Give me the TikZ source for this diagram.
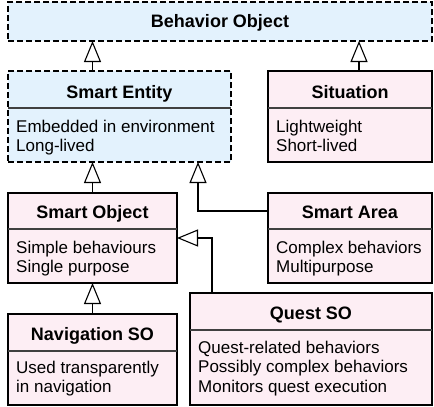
\documentclass[tikz,border=0pt]{standalone}
\usepackage{fontspec}
\setmainfont{Liberation Sans}
\usetikzlibrary{arrows.meta}
\definecolor{entityblue}{HTML}{E3F2FD}
\definecolor{classpink}{HTML}{FDEEF4}

\tikzset{
  abstractbox/.style={draw, dash pattern=on 6pt off 3pt, line width=1.1pt, fill=entityblue,
    anchor=north west, inner sep=0pt, outer sep=0pt},
  concretebox/.style={draw, line width=2.6pt, fill=classpink,
    anchor=north west, inner sep=0pt, outer sep=0pt},
  classname/.style={font=\fontsize{18}{21}\selectfont\bfseries, anchor=base, inner sep=0pt},
  % anchored at the baseline of the last line
  classbody/.style={font=\fontsize{17}{19.5}\selectfont, align=left, anchor=base west, inner sep=0pt},
  divider/.style={line width=1.1pt, draw=black!75},
  inherit/.style={-{Triangle[open, length=21pt, width=17pt, fill=white]}, line width=1.1pt},
}

\begin{document}
\begin{tikzpicture}[x=1pt, y=-1pt]
  \useasboundingbox (0,0) rectangle (434,407);
  % class boxes
  \node[abstractbox, minimum width=424pt, minimum height=39pt] (behavior) at (8,2) {};
  \node[abstractbox, minimum width=223pt, minimum height=91pt] (entity) at (8,71) {};
  \node[concretebox, minimum width=164pt, minimum height=91pt] (situation) at (268,71) {};
  \node[concretebox, minimum width=169pt, minimum height=90pt] (smartobj) at (8,193) {};
  \node[concretebox, minimum width=164pt, minimum height=90pt] (smartarea) at (268,193) {};
  \node[concretebox, minimum width=169pt, minimum height=91pt] (navso) at (8,314) {};
  \node[concretebox, minimum width=242pt, minimum height=112pt] (questso) at (190,293) {};

  % dividers
  \draw[divider] (entity.west |- 0,108) -- (entity.east |- 0,108);
  \draw[divider] (situation.west |- 0,108) -- (situation.east |- 0,108);
  \draw[divider] (smartobj.west |- 0,229) -- (smartobj.east |- 0,229);
  \draw[divider] (smartarea.west |- 0,229) -- (smartarea.east |- 0,229);
  \draw[divider] (navso.west |- 0,351) -- (navso.east |- 0,351);
  \draw[divider] (questso.west |- 0,330) -- (questso.east |- 0,330);

  % names
  \node[classname] (behaviorname) at (220,27) {Behavior Object};
  \node[classname] (entityname) at (119.5,98) {Smart Entity};
  \node[classname] (situationname) at (350,98) {Situation};
  \node[classname] (smartobjname) at (92.5,218) {Smart Object};
  \node[classname] (smartareaname) at (350,218) {Smart Area};
  \node[classname] (navsoname) at (92.5,340) {Navigation SO};
  \node[classname] (questsoname) at (311,319) {Quest SO};

  % properties
  \node[classbody] (entitybody) at (16,151.5) {Embedded in environment\\Long-lived};
  \node[classbody] (situationbody) at (276,151.5) {Lightweight\\Short-lived};
  \node[classbody] (smartobjbody) at (16,272.5) {Simple behaviours\\Single purpose};
  \node[classbody] (smartareabody) at (276,272.5) {Complex behaviors\\Multipurpose};
  \node[classbody] (navsobody) at (16,392.5) {Used transparently\\in navigation};
  \node[classbody] (questsobody) at (198,392) {Quest-related behaviors\\Possibly complex behaviors\\Monitors quest execution};

  % generalisations
  \coordinate (situationtop) at ([xshift=9pt]situation.north);
  \coordinate (areabend) at ([xshift=78.5pt]entity.south);
  \coordinate (questtop) at ([xshift=22pt]questso.north west);
  \draw[inherit] (entity.north -| smartobj.north) -- (behavior.south -| smartobj.north);
  \draw[inherit] (situationtop) -- (behavior.south -| situationtop);
  \draw[inherit] (smartobj.north) -- (entity.south -| smartobj.north);
  \draw[inherit] (navso.north) -- (smartobj.south);
  \draw[inherit] (smartarea.west |- 0,211) -| (areabend);
  \draw[inherit] (questtop) |- (smartobj.east |- 0,238);
\end{tikzpicture}
\end{document}
